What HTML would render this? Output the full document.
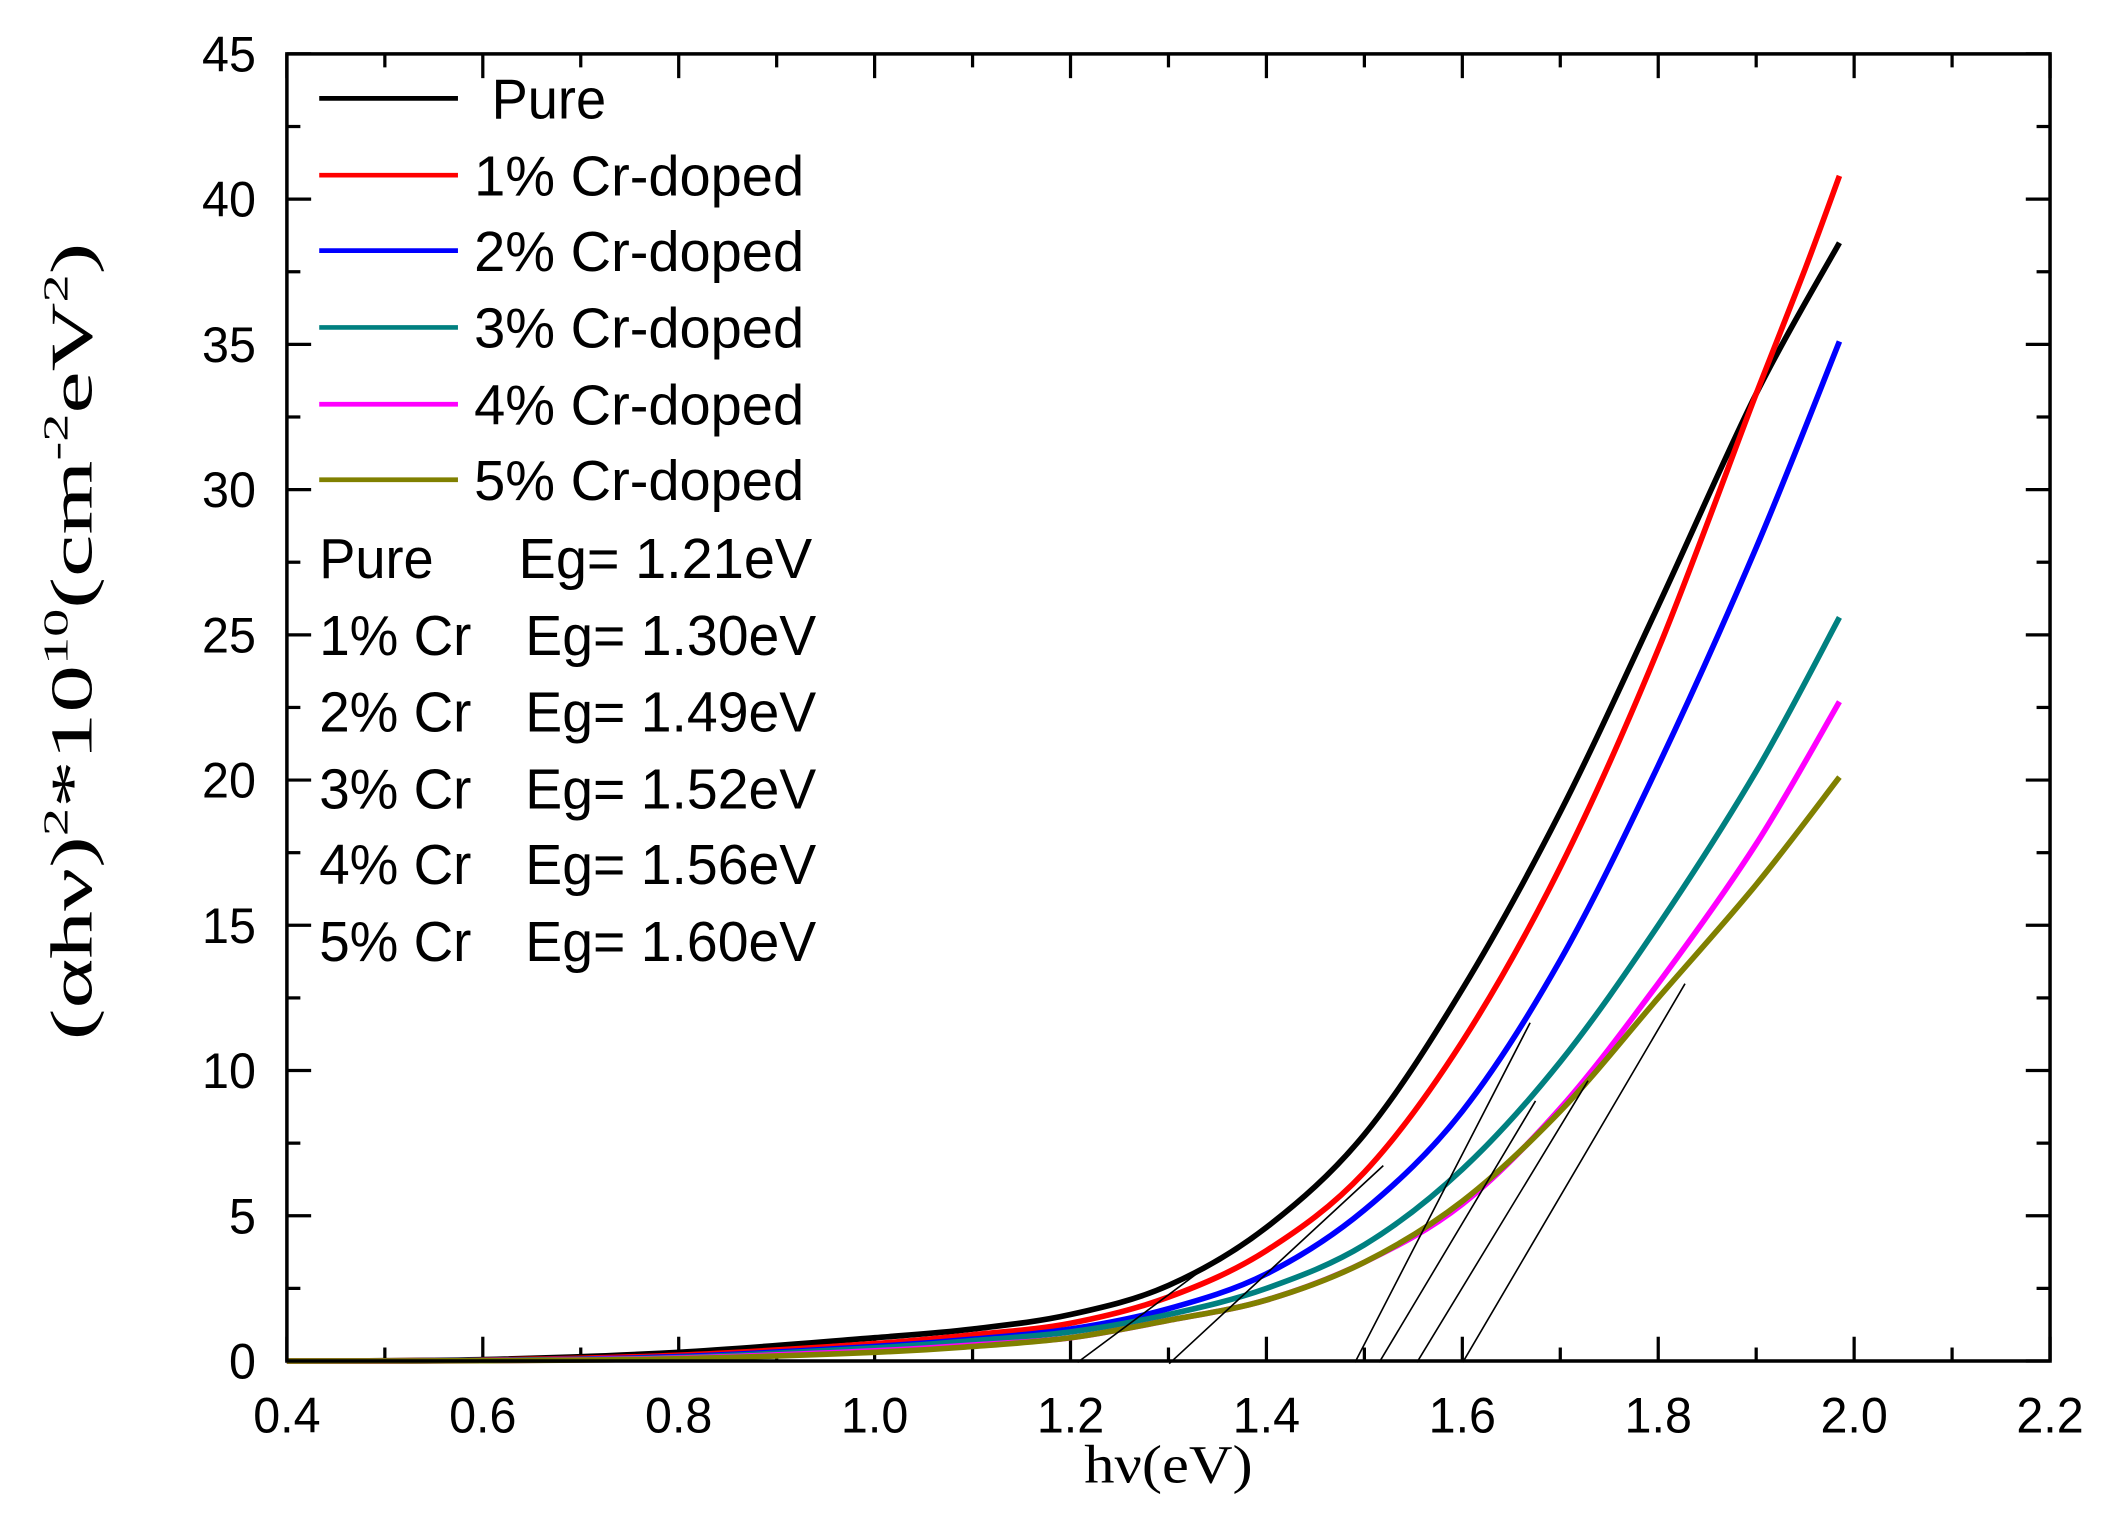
<!DOCTYPE html>
<html><head><meta charset="utf-8"><style>
html,body{margin:0;padding:0;background:#fff;width:2112px;height:1520px;overflow:hidden}
svg{display:block}
text{font-family:"Liberation Sans",sans-serif;fill:#000}
</style></head><body>
<svg width="2112" height="1520" viewBox="0 0 1568 1128" preserveAspectRatio="none" id="s">
<g id="ticks" stroke="#000" stroke-width="2.4"></g>
<g id="curves" fill="none" stroke-width="4.2" stroke-linejoin="round"></g>
<g id="tan" stroke="#000" stroke-width="1.2">
<line x1="800" y1="1011" x2="905" y2="933"/>
<line x1="868" y1="1012" x2="1027" y2="865"/>
<line x1="1006" y1="1011" x2="1136" y2="759"/>
<line x1="1024" y1="1011" x2="1140" y2="817"/>
<line x1="1052" y1="1011" x2="1179" y2="802"/>
<line x1="1086" y1="1011" x2="1251" y2="730"/>
</g>
<rect x="213" y="40" width="1309" height="970" fill="none" stroke="#000" stroke-width="2.6"/>
<g id="labels" font-size="37"></g>
<g stroke-width="3.5">
<line x1="237" y1="73" x2="340" y2="73" stroke="#000"/>
<line x1="237" y1="130" x2="340" y2="130" stroke="#f00"/>
<line x1="237" y1="186" x2="340" y2="186" stroke="#00f"/>
<line x1="237" y1="243" x2="340" y2="243" stroke="#008080"/>
<line x1="237" y1="300" x2="340" y2="300" stroke="#f0f"/>
<line x1="237" y1="356" x2="340" y2="356" stroke="#808000"/>
</g>
<g font-size="42">
<text x="365" y="88" textLength="85" lengthAdjust="spacingAndGlyphs">Pure</text>
<text x="352" y="145" textLength="245" lengthAdjust="spacingAndGlyphs">1% Cr-doped</text>
<text x="352" y="201" textLength="245" lengthAdjust="spacingAndGlyphs">2% Cr-doped</text>
<text x="352" y="258" textLength="245" lengthAdjust="spacingAndGlyphs">3% Cr-doped</text>
<text x="352" y="315" textLength="245" lengthAdjust="spacingAndGlyphs">4% Cr-doped</text>
<text x="352" y="371" textLength="245" lengthAdjust="spacingAndGlyphs">5% Cr-doped</text>
<text x="237" y="429" textLength="85" lengthAdjust="spacingAndGlyphs">Pure</text>
<text x="385" y="429" textLength="218" lengthAdjust="spacingAndGlyphs">Eg= 1.21eV</text>
<text x="237" y="486" textLength="113" lengthAdjust="spacingAndGlyphs">1% Cr</text>
<text x="390" y="486" textLength="216" lengthAdjust="spacingAndGlyphs">Eg= 1.30eV</text>
<text x="237" y="543" textLength="113" lengthAdjust="spacingAndGlyphs">2% Cr</text>
<text x="390" y="543" textLength="216" lengthAdjust="spacingAndGlyphs">Eg= 1.49eV</text>
<text x="237" y="600" textLength="113" lengthAdjust="spacingAndGlyphs">3% Cr</text>
<text x="390" y="600" textLength="216" lengthAdjust="spacingAndGlyphs">Eg= 1.52eV</text>
<text x="237" y="656" textLength="113" lengthAdjust="spacingAndGlyphs">4% Cr</text>
<text x="390" y="656" textLength="216" lengthAdjust="spacingAndGlyphs">Eg= 1.56eV</text>
<text x="237" y="713" textLength="113" lengthAdjust="spacingAndGlyphs">5% Cr</text>
<text x="390" y="713" textLength="216" lengthAdjust="spacingAndGlyphs">Eg= 1.60eV</text>
</g>
<text x="805" y="1100" font-size="40" textLength="125" lengthAdjust="spacingAndGlyphs" style="font-family:'Liberation Serif',serif">hν(eV)</text>
<text transform="translate(68,772) rotate(-90)" font-size="44" textLength="592" lengthAdjust="spacingAndGlyphs" style="font-family:'Liberation Serif',serif">(αhν)<tspan dy="-18" font-size="26">2</tspan><tspan dy="18">*10</tspan><tspan dy="-18" font-size="26">10</tspan><tspan dy="18">(cm</tspan><tspan dy="-18" font-size="26">-2</tspan><tspan dy="18">eV</tspan><tspan dy="-18" font-size="26">2</tspan><tspan dy="18">)</tspan></text>
</svg>
<script>
const NS="http://www.w3.org/2000/svg";
const X=e=>213+(e-0.4)*1309/1.8, Y=v=>1010-v*970/45;
const tk=document.getElementById('ticks'), lb=document.getElementById('labels');
function L(x1,y1,x2,y2){const l=document.createElementNS(NS,'line');l.setAttribute('x1',x1);l.setAttribute('y1',y1);l.setAttribute('x2',x2);l.setAttribute('y2',y2);tk.appendChild(l);}
function T(x,y,s,w,anchor){const t=document.createElementNS(NS,'text');t.setAttribute('x',x);t.setAttribute('y',y);t.setAttribute('text-anchor',anchor);t.setAttribute('textLength',w);t.setAttribute('lengthAdjust','spacingAndGlyphs');t.textContent=s;lb.appendChild(t);}
for(let i=0;i<=18;i++){const e=0.4+i*0.1,x=X(e),len=i%2==0?18:10;L(x,1010,x,1010-len);L(x,40,x,40+len);
 if(i%2==0){T(x,1063,e.toFixed(1),50,'middle');}}
for(let i=0;i<=18;i++){const v=i*2.5,y=Y(v),len=i%2==0?18:10;L(213,y,213+len,y);L(1522,y,1522-len,y);
 if(i%2==0){const s=String(v);T(190,y+13,s,s.length==1?20:40,'end');}}
const data={
"#000":[[0.4,0],[0.6,0.05],[0.8,0.3],[1.0,0.8],[1.1,1.1],[1.2,1.6],[1.3,2.6],[1.4,4.6],[1.5,7.8],[1.6,12.8],[1.7,18.9],[1.8,26],[1.9,33.3],[1.985,38.5]],
"#f00":[[0.4,0],[0.6,0.03],[0.8,0.2],[1.0,0.6],[1.1,0.9],[1.2,1.3],[1.3,2.2],[1.4,3.8],[1.5,6.5],[1.6,11],[1.7,17],[1.8,24.5],[1.9,33.3],[1.95,37.6],[1.985,40.8]],
"#00f":[[0.4,0],[0.6,0.02],[0.8,0.15],[1.0,0.5],[1.1,0.75],[1.2,1.1],[1.3,1.8],[1.4,3],[1.5,5.2],[1.6,8.6],[1.7,13.8],[1.8,20.5],[1.9,28],[1.985,35.1]],
"#008080":[[0.4,0],[0.6,0.02],[0.8,0.12],[1.0,0.45],[1.1,0.7],[1.2,1.0],[1.3,1.6],[1.4,2.5],[1.5,4],[1.6,6.6],[1.7,10.3],[1.8,15],[1.9,20.3],[1.985,25.6]],
"#f0f":[[0.4,0],[0.6,0.01],[0.8,0.1],[1.0,0.35],[1.1,0.55],[1.2,0.8],[1.3,1.4],[1.4,2.1],[1.5,3.4],[1.6,5.4],[1.7,8.7],[1.8,13],[1.9,17.8],[1.985,22.7]],
"#808000":[[0.4,0],[0.6,0.01],[0.8,0.08],[1.0,0.3],[1.1,0.5],[1.2,0.8],[1.3,1.4],[1.4,2.1],[1.5,3.4],[1.6,5.5],[1.7,8.6],[1.8,12.5],[1.9,16.4],[1.985,20.1]]};
const cg=document.getElementById('curves');
for(const c in data){const p=data[c];let d="M"+X(p[0][0])+","+Y(p[0][1]);
 for(let i=0;i<p.length-1;i++){const p0=p[Math.max(0,i-1)],p1=p[i],p2=p[i+1],p3=p[Math.min(p.length-1,i+2)];
  const c1x=p1[0]+(p2[0]-p0[0])/6,c1y=p1[1]+(p2[1]-p0[1])/6,c2x=p2[0]-(p3[0]-p1[0])/6,c2y=p2[1]-(p3[1]-p1[1])/6;
  d+=` C${X(c1x)},${Y(c1y)} ${X(c2x)},${Y(c2y)} ${X(p2[0])},${Y(p2[1])}`;}
 const pa=document.createElementNS(NS,'path');pa.setAttribute('d',d);pa.setAttribute('stroke',c);cg.appendChild(pa);}
</script>
</body></html>
